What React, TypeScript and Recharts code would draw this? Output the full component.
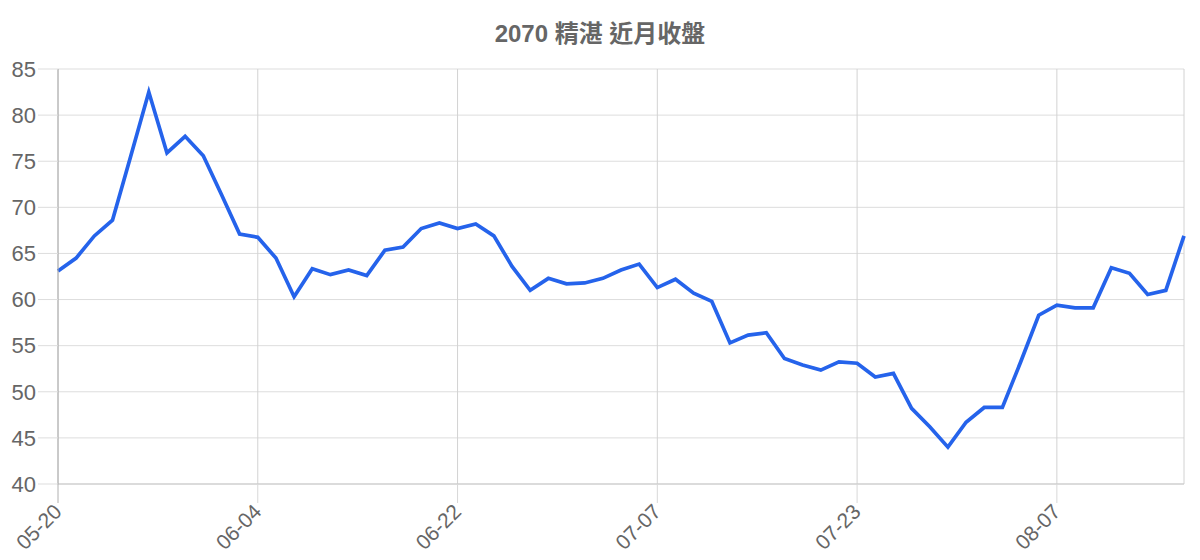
import { LineChart, Line, XAxis, YAxis, CartesianGrid } from 'recharts';

const dates = [
  '05-20', '05-21', '05-22', '05-23', '05-24', '05-27', '05-28', '05-29', '05-30', '05-31',
  '06-03', '06-04', '06-05', '06-06', '06-07', '06-11', '06-12', '06-13', '06-14', '06-17',
  '06-18', '06-19', '06-22', '06-24', '06-25', '06-26', '06-27', '06-28', '07-01', '07-02',
  '07-03', '07-04', '07-05', '07-07', '07-08', '07-09', '07-10', '07-11', '07-12', '07-15',
  '07-16', '07-17', '07-18', '07-19', '07-23', '07-24', '07-25', '07-26', '07-29', '07-30',
  '07-31', '08-01', '08-02', '08-05', '08-06', '08-07', '08-08', '08-09', '08-12', '08-13',
  '08-14', '08-15', '08-16',
];

const closes = [
  63.1, 64.5, 66.9, 68.6, 75.5, 82.5, 75.9, 77.7, 75.6, 71.4,
  67.1, 66.75, 64.5, 60.3, 63.35, 62.7, 63.2, 62.6, 65.35, 65.7,
  67.7, 68.3, 67.7, 68.2, 66.9, 63.6, 61.0, 62.3, 61.7, 61.8,
  62.3, 63.2, 63.85, 61.3, 62.2, 60.7, 59.8, 55.3, 56.15, 56.4,
  53.6, 52.9, 52.35, 53.25, 53.1, 51.6, 52.0, 48.2, 46.2, 44.0,
  46.7, 48.3, 48.3, 53.2, 58.3, 59.4, 59.1, 59.1, 63.45, 62.85,
  60.55, 61.0, 66.9,
];

const tickLabels = ['05-20', '06-04', '06-22', '07-07', '07-23', '08-07'];
const yTicks = [40, 45, 50, 55, 60, 65, 70, 75, 80, 85];

const data = dates.map((d, i) => ({ date: d, close: closes[i] }));

const FONT = '"Liberation Sans", Arial, "Noto Sans CJK TC", sans-serif';

function DateTick(props: any) {
  const { x, y, payload, index } = props;
  const tx = x + 5;
  const ty = y + 10;
  return (
    <g>
      <line x1={x} y1={y - 19} x2={x} y2={y} stroke={index === 0 ? '#b0b0b0' : '#d8d8d8'} strokeWidth={1} />
      <text
        x={tx}
        y={ty}
        transform={`rotate(-45, ${tx}, ${ty})`}
        textAnchor="end"
        fill="#666"
        fontSize={21}
        fontFamily={FONT}
      >
        {payload.value}
      </text>
    </g>
  );
}

export default function App() {
  return (
    <div style={{ position: 'absolute', left: 0, top: 0, width: 1200, height: 560, background: '#fff' }}>
      <div
        style={{
          position: 'absolute',
          top: 22,
          left: 0,
          width: 1200,
          textAlign: 'center',
          fontFamily: FONT,
          fontWeight: 'bold',
          fontSize: 24,
          lineHeight: '24px',
          color: '#666',
        }}
      >
        2070 精湛 近月收盤
      </div>
      <LineChart width={1200} height={560} data={data} margin={{ top: 69, right: 16, bottom: 16, left: 0 }}>
        <CartesianGrid vertical={false} stroke="#dddddd" strokeWidth={1} />
        <CartesianGrid horizontal={false} stroke="#d2d2d2" strokeWidth={1} />
        <XAxis
          dataKey="date"
          ticks={tickLabels}
          interval={0}
          height={60}
          tickSize={19}
          tickMargin={0}
          tickLine={false}
          axisLine={{ stroke: '#c8c8c8' }}
          tick={<DateTick />}
        />
        <YAxis
          domain={[40, 85]}
          ticks={yTicks}
          interval={0}
          width={58}
          tickSize={20}
          tickMargin={2}
          tickLine={{ stroke: '#dddddd' }}
          axisLine={{ stroke: '#aaaaaa' }}
          tick={{ fill: '#666', fontSize: 22, fontFamily: FONT }}
        />
        <Line
          type="linear"
          dataKey="close"
          stroke="#2563eb"
          strokeWidth={3.7}
          dot={false}
          activeDot={false}
          isAnimationActive={false}
        />
      </LineChart>
    </div>
  );
}
